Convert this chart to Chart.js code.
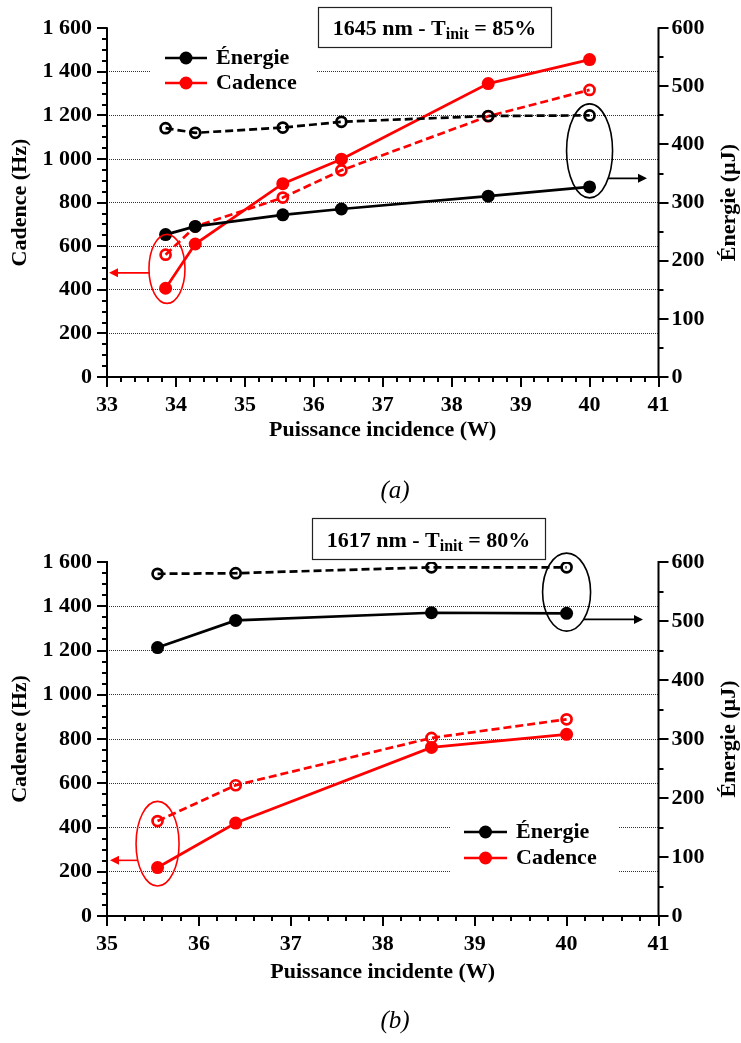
<!DOCTYPE html>
<html>
<head>
<meta charset="utf-8">
<script src="https://cdn.jsdelivr.net/npm/chart.js@4.4.0/dist/chart.umd.min.js"></script>
<style>
    html, body { margin: 0; padding: 0; background: #fff; }
    #wrap { position: relative; width: 741px; height: 1043px; }
    #chartA { position: absolute; left: 0; top: 0; }
    #chartB { position: absolute; left: 0; top: 505px; }
</style>
</head>
<body>
<div id="wrap">
    <canvas id="chartA" width="741" height="505"></canvas>
    <canvas id="chartB" width="741" height="538"></canvas>
</div>
<script>
// Data
// (a) 1645 nm - Tinit = 85%
const puissanceA = [33.85, 34.28, 35.55, 36.4, 38.53, 40.0];
const energieA = [245, 259, 279, 289, 311, 327];
const energieA_pointille = [428, 420, 429, 439, 449, 450];
const cadenceA = [407, 610, 887, 999, 1346, 1456];
const cadenceA_pointille = [561, 690, 823, 948, 1196, 1317];

// (b) 1617 nm - Tinit = 80%
const puissanceB = [35.55, 36.4, 38.53, 40.0];
const energieB = [455, 501, 514, 513];
const energieB_pointille = [580, 581, 591, 591];
const cadenceB = [219, 420, 762, 821];
const cadenceB_pointille = [429, 591, 805, 889];

// Axis ranges
const cadenceRange = [0, 1600];
const energieRange = [0, 600];
const puissanceRangeA = [33, 41];
const puissanceRangeB = [35, 41];

const FONT = "'Liberation Serif', 'DejaVu Serif', serif";
const RED = '#ff0000';

// Annotations (title box, legend, circled groups)
const decor = {
    chartA: {
        box: { x: 318, y: 7, w: 233, h: 40, base: 28, main: '1645 nm - T', sub: 'init', tail: ' = 85%' },
        legend: { bg: [150, 42, 167, 55], x0: 165, x1: 207, tx: 216, y0: 58, dy: 25 },
        ellipses: [
            { xv: 40, yv: 389, axis: 'yE', rx: 23, ry: 47, color: '#000', ady: 27.5, ato: 647 },
            { xv: 33.87, yv: 496, axis: 'y', rx: 18, ry: 34.5, color: RED, ady: 4, ato: 109 }
        ],
        caption: '(a)', capY: 491
    },
    chartB: {
        box: { x: 312, y: 13, w: 233, h: 41, base: 29, main: '1617 nm - T', sub: 'init', tail: ' = 80%' },
        legend: { bg: [451, 305, 167, 70], x0: 464, x1: 507, tx: 516, y0: 327, dy: 26 },
        ellipses: [
            { xv: 40, yv: 549, axis: 'yE', rx: 24, ry: 39, color: '#000', ady: 27.3, ato: 643 },
            { xv: 35.55, yv: 327, axis: 'y', rx: 21.5, ry: 42.3, color: RED, ady: 16.7, ato: 110 }
        ],
        caption: '(b)', capY: 516
    }
};

function formatHz(v) {
    if (v >= 1000) return Math.floor(v / 1000) + ' ' + String(v % 1000).padStart(3, '0');
    return String(v);
}

function points(xs, ys) {
    return xs.map((x, i) => ({ x: x, y: ys[i] }));
}

function strokeLine(ctx, x1, y1, x2, y2) {
    ctx.beginPath();
    ctx.moveTo(x1, y1);
    ctx.lineTo(x2, y2);
    ctx.stroke();
}

const decorPlugin = {
    id: 'decor',
    beforeDatasetsDraw(chart) {
        const d = decor[chart.canvas.id];
        const ctx = chart.ctx;
        ctx.save();
        ctx.fillStyle = '#fff';
        ctx.fillRect(d.legend.bg[0], d.legend.bg[1], d.legend.bg[2], d.legend.bg[3]);
        ctx.restore();
    },
    afterDatasetsDraw(chart) {
        const d = decor[chart.canvas.id];
        const ctx = chart.ctx;
        ctx.save();

        // legend (only the solid series)
        const lg = d.legend;
        [0, 2].forEach((idx, i) => {
            const ds = chart.data.datasets[idx];
            const y = lg.y0 + i * lg.dy;
            ctx.strokeStyle = ds.borderColor;
            ctx.lineWidth = 2.7;
            strokeLine(ctx, lg.x0, y, lg.x1, y);
            ctx.fillStyle = ds.borderColor;
            ctx.beginPath();
            ctx.arc((lg.x0 + lg.x1) / 2, y, 6.5, 0, Math.PI * 2);
            ctx.fill();
            ctx.fillStyle = '#000';
            ctx.font = 'bold 22px ' + FONT;
            ctx.textBaseline = 'middle';
            ctx.textAlign = 'left';
            ctx.fillText(ds.label, lg.tx, y);
        });

        // title box
        const b = d.box;
        ctx.fillStyle = '#fff';
        ctx.fillRect(b.x, b.y, b.w, b.h);
        ctx.strokeStyle = '#222';
        ctx.lineWidth = 1.2;
        ctx.strokeRect(b.x + 0.5, b.y + 0.5, b.w, b.h);
        const fMain = 'bold 22px ' + FONT;
        const fSub = 'bold 16px ' + FONT;
        ctx.font = fMain;
        const w1 = ctx.measureText(b.main).width;
        const w3 = ctx.measureText(b.tail).width;
        ctx.font = fSub;
        const w2 = ctx.measureText(b.sub).width;
        let tx = b.x + (b.w - (w1 + w2 + w3)) / 2;
        const by = b.y + b.base;
        ctx.fillStyle = '#000';
        ctx.textBaseline = 'alphabetic';
        ctx.textAlign = 'left';
        ctx.font = fMain;
        ctx.fillText(b.main, tx, by);
        tx += w1;
        ctx.font = fSub;
        ctx.fillText(b.sub, tx, by + 4);
        tx += w2;
        ctx.font = fMain;
        ctx.fillText(b.tail, tx, by);

        // circled groups with arrows towards their axis
        d.ellipses.forEach(e => {
            const cx = chart.scales.x.getPixelForValue(e.xv);
            const cy = chart.scales[e.axis].getPixelForValue(e.yv);
            ctx.strokeStyle = e.color;
            ctx.fillStyle = e.color;
            ctx.lineWidth = 1.6;
            ctx.beginPath();
            ctx.ellipse(cx, cy, e.rx, e.ry, 0, 0, Math.PI * 2);
            ctx.stroke();
            const ay = cy + e.ady;
            const dir = e.ato > cx ? 1 : -1;
            const ax = cx + dir * e.rx * Math.sqrt(1 - Math.pow(e.ady / e.ry, 2));
            strokeLine(ctx, ax, ay, e.ato - dir * 6, ay);
            ctx.beginPath();
            ctx.moveTo(e.ato, ay);
            ctx.lineTo(e.ato - dir * 9, ay - 4.5);
            ctx.lineTo(e.ato - dir * 9, ay + 4.5);
            ctx.closePath();
            ctx.fill();
        });
        ctx.restore();
    },
    afterDraw(chart) {
        const d = decor[chart.canvas.id];
        const ctx = chart.ctx;
        const a = chart.chartArea;
        const { x, y, yE } = chart.scales;
        ctx.save();
        ctx.strokeStyle = '#000';
        ctx.lineWidth = 2;
        ctx.beginPath();
        ctx.moveTo(a.left, a.top - 1);
        ctx.lineTo(a.left, a.bottom);
        ctx.lineTo(a.right, a.bottom);
        ctx.lineTo(a.right, a.top - 1);
        ctx.stroke();

        // minor and major ticks
        for (let v = x.min; v <= x.max + 1e-6; v += 0.2) {
            const px = Math.round(x.getPixelForValue(v));
            const major = Math.abs(v - Math.round(v)) < 1e-6;
            strokeLine(ctx, px, a.bottom, px, a.bottom + (major ? 10 : 5));
        }
        for (let v = y.min; v <= y.max; v += 50) {
            const py = Math.round(y.getPixelForValue(v));
            strokeLine(ctx, a.left - (v % 200 === 0 ? 10 : 5), py, a.left, py);
        }
        for (let v = yE.min; v <= yE.max; v += 50) {
            const py = Math.round(yE.getPixelForValue(v));
            strokeLine(ctx, a.right, py, a.right + (v % 100 === 0 ? 10 : 5), py);
        }

        // right axis title, read bottom to top like the left one
        ctx.fillStyle = '#000';
        ctx.font = 'bold 22px ' + FONT;
        ctx.textAlign = 'center';
        ctx.textBaseline = 'middle';
        ctx.save();
        ctx.translate(729, (a.top + a.bottom) / 2);
        ctx.rotate(-Math.PI / 2);
        ctx.fillText('Énergie (µJ)', 0, 0);
        ctx.restore();

        // caption
        ctx.font = 'italic 25px ' + FONT;
        ctx.fillText(d.caption, 395, d.capY);
        ctx.restore();
    }
};

function makeChart(id, xs, eS, eD, cS, cD, xRange, xTitle, padTop, xHeight, xTitlePad) {
    const tickFont = { family: FONT, size: 22, weight: 'bold' };
    const ctx = document.getElementById(id).getContext('2d');
    return new Chart(ctx, {
        type: 'line',
        data: {
            datasets: [
                {
                    label: 'Énergie',
                    data: points(xs, eS),
                    yAxisID: 'yE',
                    borderColor: '#000',
                    backgroundColor: '#000',
                    borderWidth: 2.7,
                    pointRadius: 6.5,
                    pointBorderWidth: 0,
                    pointBackgroundColor: '#000'
                },
                {
                    label: 'Énergie (2)',
                    data: points(xs, eD),
                    yAxisID: 'yE',
                    borderColor: '#000',
                    borderWidth: 2.7,
                    borderDash: [8, 4],
                    pointRadius: 5,
                    pointBorderWidth: 2.7,
                    pointBorderColor: '#000',
                    pointBackgroundColor: 'rgba(0,0,0,0)'
                },
                {
                    label: 'Cadence',
                    data: points(xs, cS),
                    yAxisID: 'y',
                    borderColor: RED,
                    backgroundColor: RED,
                    borderWidth: 2.7,
                    pointRadius: 6.5,
                    pointBorderWidth: 0,
                    pointBackgroundColor: RED
                },
                {
                    label: 'Cadence (2)',
                    data: points(xs, cD),
                    yAxisID: 'y',
                    borderColor: RED,
                    borderWidth: 2.7,
                    borderDash: [8, 4],
                    pointRadius: 5,
                    pointBorderWidth: 2.7,
                    pointBorderColor: RED,
                    pointBackgroundColor: 'rgba(0,0,0,0)'
                }
            ]
        },
        options: {
            responsive: false,
            animation: false,
            events: [],
            layout: { padding: { top: padTop, left: 0, right: 0, bottom: 0 } },
            plugins: {
                legend: { display: false },
                tooltip: { enabled: false }
            },
            scales: {
                x: {
                    type: 'linear',
                    min: xRange[0],
                    max: xRange[1],
                    ticks: { stepSize: 1, font: tickFont, color: '#000', padding: 15, maxRotation: 0 },
                    grid: { display: false, drawTicks: false },
                    border: { display: false },
                    title: {
                        display: true,
                        text: xTitle,
                        font: tickFont,
                        color: '#000',
                        padding: { top: 0, bottom: xTitlePad }
                    },
                    afterFit: function (scale) { scale.height = xHeight; }
                },
                y: {
                    position: 'left',
                    min: cadenceRange[0],
                    max: cadenceRange[1],
                    ticks: {
                        stepSize: 200,
                        font: tickFont,
                        color: '#000',
                        padding: 15,
                        callback: function (value) { return formatHz(value); }
                    },
                    grid: {
                        drawTicks: false,
                        lineWidth: 1,
                        color: function (c) {
                            const v = c.tick ? c.tick.value : 0;
                            return (v === cadenceRange[0] || v === cadenceRange[1]) ? 'rgba(0,0,0,0)' : '#333';
                        }
                    },
                    border: { display: false, dash: [1, 1] },
                    title: {
                        display: true,
                        text: 'Cadence (Hz)',
                        font: tickFont,
                        color: '#000',
                        padding: { top: 7, bottom: 0 }
                    },
                    afterFit: function (scale) { scale.width = 107; }
                },
                yE: {
                    position: 'right',
                    min: energieRange[0],
                    max: energieRange[1],
                    ticks: { stepSize: 100, font: tickFont, color: '#000', padding: 13 },
                    grid: { display: false, drawTicks: false },
                    border: { display: false },
                    title: { display: false },
                    afterFit: function (scale) { scale.width = 741 - 658.5; }
                }
            }
        },
        plugins: [decorPlugin]
    });
}

makeChart('chartA', puissanceA, energieA, energieA_pointille, cadenceA, cadenceA_pointille,
    puissanceRangeA, 'Puissance incidence (W)', 22, 128, 61);
makeChart('chartB', puissanceB, energieB, energieB_pointille, cadenceB, cadenceB_pointille,
    puissanceRangeB, 'Puissance incidente (W)', 57, 127, 57);
</script>
</body>
</html>
